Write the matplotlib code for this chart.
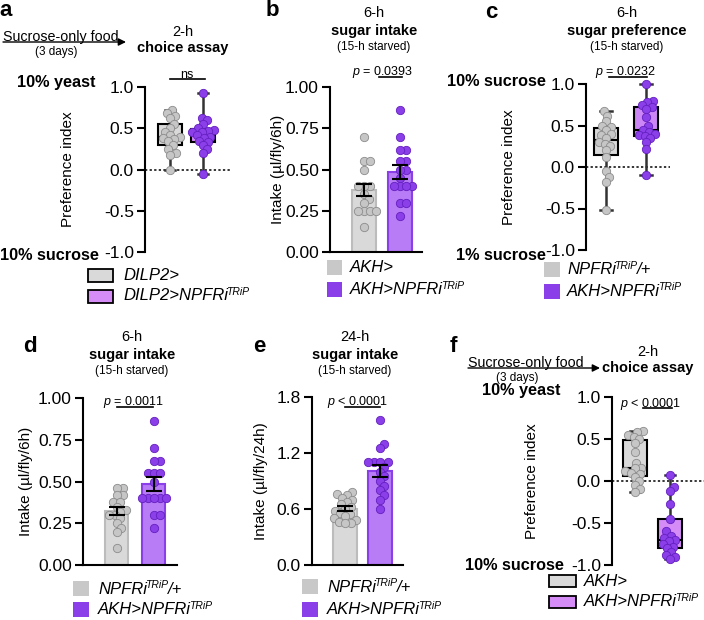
import matplotlib
matplotlib.use("Agg")
import matplotlib.pyplot as plt
import numpy as np
from matplotlib.patches import Rectangle
from matplotlib.ticker import FormatStrFormatter

plt.rcParams['font.family'] = ['Liberation Sans', 'DejaVu Sans']
plt.rcParams['mathtext.fontset'] = 'custom'
plt.rcParams['mathtext.it'] = 'Liberation Sans:italic'
plt.rcParams['mathtext.rm'] = 'Liberation Sans'
plt.rcParams['axes.unicode_minus'] = False

# ---- data ----
# a: preference index, DILP2> vs DILP2>NPFRi
a_ctrl = [0.72, 0.68, 0.65, 0.62, 0.55, 0.50, 0.45, 0.42, 0.40, 0.38, 0.37, 0.35, 0.30, 0.25, 0.20, 0.18, 0.0]
a_rnai = [0.93, 0.63, 0.60, 0.55, 0.50, 0.48, 0.47, 0.45, 0.45, 0.42, 0.40, 0.38, 0.35, 0.33, 0.30, 0.25, 0.20, -0.05]
# b: 6-h intake, AKH> vs AKH>NPFRi
b_ctrl = [0.70, 0.55, 0.55, 0.50, 0.40, 0.40, 0.40, 0.35, 0.32, 0.30, 0.25, 0.25, 0.25, 0.25, 0.15]
b_rnai = [0.86, 0.70, 0.62, 0.62, 0.55, 0.55, 0.50, 0.50, 0.45, 0.40, 0.40, 0.40, 0.40, 0.30, 0.30, 0.22]
# c: sugar preference
c_ctrl = [0.68, 0.62, 0.55, 0.50, 0.48, 0.45, 0.40, 0.38, 0.35, 0.30, 0.28, 0.25, 0.20, 0.12, -0.05, -0.12, -0.18, -0.52]
c_rnai = [1.0, 0.80, 0.78, 0.75, 0.72, 0.70, 0.60, 0.50, 0.45, 0.42, 0.40, 0.38, 0.37, 0.35, 0.30, 0.22, -0.10]
# d: 6-h intake, NPFRi/+ vs AKH>NPFRi
d_ctrl = [0.46, 0.46, 0.42, 0.42, 0.38, 0.38, 0.35, 0.33, 0.32, 0.30, 0.30, 0.28, 0.25, 0.22, 0.20, 0.10]
d_rnai = [0.86, 0.70, 0.62, 0.62, 0.55, 0.55, 0.55, 0.50, 0.40, 0.40, 0.40, 0.40, 0.40, 0.30, 0.30, 0.22]
# e: 24-h intake
e_ctrl = [0.78, 0.76, 0.75, 0.72, 0.70, 0.68, 0.65, 0.62, 0.60, 0.58, 0.56, 0.55, 0.52, 0.50, 0.48, 0.46, 0.45, 0.45]
e_rnai = [1.55, 1.30, 1.25, 1.10, 1.10, 1.10, 1.10, 1.05, 1.00, 0.95, 0.90, 0.85, 0.80, 0.75, 0.70, 0.60]
# f: yeast vs sucrose preference
f_ctrl = [0.60, 0.58, 0.55, 0.52, 0.50, 0.45, 0.35, 0.22, 0.16, 0.15, 0.12, 0.10, 0.08, 0.05, 0.0, -0.05, -0.10, -0.13]
f_rnai = [0.07, -0.07, -0.12, -0.27, -0.45, -0.60, -0.65, -0.68, -0.70, -0.72, -0.75, -0.78, -0.80, -0.85, -0.88, -0.90, -0.93]

p_texts = ["ns", "$\\it{p}$ = 0.0393", "$\\it{p}$ = 0.0232", "$\\it{p}$ = 0.0011", "$\\it{p}$ < 0.0001", "$\\it{p}$ < 0.0001"]

# colours
GREY_PT, GREY_PT_E = '#c6c6c6', '#8c8c8c'
PURP_PT, PURP_PT_E = '#8b3fe8', '#6420c0'
GREY_BOX, PURP_BOX = '#d9d9d9', '#d68cf7'
GREY_BAR, GREY_BAR_E = '#d9d9d9', '#bcbcbc'
PURP_BAR, PURP_BAR_E = '#b77cf6', '#8b3fe8'
GREY_LEG, PURP_LEG = '#c8c8c8', '#8b3fe8'

W, H = 704, 620
fig = plt.figure(figsize=(W / 100, H / 100), dpi=100)

bg = fig.add_axes([0, 0, 1, 1])
bg.set_xlim(0, W)
bg.set_ylim(H, 0)
bg.axis('off')


def make_ax(l, t, r, b, c1, c2, ylim):
    ax = fig.add_axes([l / W, 1 - b / H, (r - l) / W, (b - t) / H])
    ppx = c2 - c1
    ax._xl = (1 - (c1 - l) / ppx, 2 + (r - c2) / ppx)
    ax.set_ylim(*ylim)
    ax.spines[['top', 'right']].set_visible(False)
    ax.spines['left'].set_linewidth(1.5)
    ax.spines['bottom'].set_linewidth(1.5)
    ax.tick_params(axis='y', length=6, width=1.5, labelsize=12.5, pad=2)
    ax.set_facecolor('none')
    ax._px = (ppx, (b - t) / (ylim[1] - ylim[0]))
    return ax


def finish(ax):
    ax.set_xlim(*ax._xl)
    ax.set_xticks([])


def swarm_x(vals, ax, d=6.0):
    xs_px, ys_px = ax._px
    ys = np.asarray(vals) * ys_px
    xs = np.zeros(len(ys))
    done = []
    for i in np.argsort(ys):
        cands = [0.0]
        for j in done:
            dy = ys[i] - ys[j]
            if abs(dy) < d:
                dx = np.sqrt(d * d - dy * dy)
                cands += [xs[j] + dx, xs[j] - dx]
        cands.sort(key=abs)
        for c in cands:
            if all((c - xs[j]) ** 2 + (ys[i] - ys[j]) ** 2 >= d * d - 1e-6 for j in done):
                xs[i] = c
                break
        done.append(i)
    return xs / xs_px


def dots(ax, pos, vals, fc, ec):
    ax.scatter(pos + swarm_x(vals, ax), vals, s=36, facecolor=fc, edgecolor=ec,
               linewidth=0.6, zorder=3, clip_on=False)


def box_panel(ax, ctrl, rnai, width, pfill):
    bp = ax.boxplot([ctrl, rnai], positions=[1, 2], widths=width, whis=(0, 100),
                    patch_artist=True, showfliers=False, capwidths=0.3,
                    boxprops=dict(linewidth=1.5, edgecolor='black'),
                    medianprops=dict(color='black', linewidth=1.5),
                    whiskerprops=dict(color='#333333', linewidth=1.8),
                    capprops=dict(color='#333333', linewidth=1.8))
    bp['boxes'][0].set_facecolor(GREY_BOX)
    bp['boxes'][1].set_facecolor(pfill)
    for art in bp['whiskers'] + bp['caps']:
        art.set_clip_on(False)
    ax.axhline(0, color='black', lw=1.1, ls=(0, (1.5, 1.5)), zorder=1)
    ax.spines['bottom'].set_visible(False)
    ax.set_yticks([-1, -0.5, 0, 0.5, 1])
    ax.yaxis.set_major_formatter(FormatStrFormatter('%.1f'))
    dots(ax, 1, ctrl, GREY_PT, GREY_PT_E)
    dots(ax, 2, rnai, PURP_PT, PURP_PT_E)
    finish(ax)


def bar_panel(ax, ctrl, rnai, width):
    groups = [ctrl, rnai]
    means = [np.mean(g) for g in groups]
    sems = [np.std(g, ddof=1) / np.sqrt(len(g)) for g in groups]
    ax.bar([1, 2], means, width, color=[GREY_BAR, PURP_BAR],
           edgecolor=[GREY_BAR_E, PURP_BAR_E], linewidth=1.5, zorder=2)
    dots(ax, 1, ctrl, GREY_PT, GREY_PT_E)
    dots(ax, 2, rnai, PURP_PT, PURP_PT_E)
    ax.errorbar([1, 2], means, yerr=sems, fmt='none', ecolor='black',
                elinewidth=1.5, capsize=6, capthick=1.5, zorder=4)
    finish(ax)


# ---- panels ----
ax_a = make_ax(145, 87, 230, 252, 170, 203, (-1, 1))
box_panel(ax_a, a_ctrl, a_rnai, 0.75, PURP_BOX)
ax_a.set_ylabel('Preference index', fontsize=11)
ax_a.yaxis.set_label_coords((75 - 145) / 85, 0.5)

ax_b = make_ax(330, 87, 422, 252, 364, 400, (0, 1))
bar_panel(ax_b, b_ctrl, b_rnai, 0.65)
ax_b.set_yticks([0, 0.25, 0.5, 0.75, 1])
ax_b.yaxis.set_major_formatter(FormatStrFormatter('%.2f'))
ax_b.set_ylabel('Intake (µl/fly/6h)', fontsize=11)
ax_b.yaxis.set_label_coords((285 - 330) / 92, 0.5)

ax_c = make_ax(586, 84, 670, 250, 606, 646, (-1, 1))
box_panel(ax_c, c_ctrl, c_rnai, 0.6, '#cd86f6')
ax_c.set_ylabel('Preference index', fontsize=11)
ax_c.yaxis.set_label_coords((516 - 586) / 84, 0.5)

ax_d = make_ax(83, 398, 177, 565, 116.5, 153.5, (0, 1))
bar_panel(ax_d, d_ctrl, d_rnai, 0.62)
ax_d.set_yticks([0, 0.25, 0.5, 0.75, 1])
ax_d.yaxis.set_major_formatter(FormatStrFormatter('%.2f'))
ax_d.set_ylabel('Intake (µl/fly/6h)', fontsize=11)
ax_d.yaxis.set_label_coords((33 - 83) / 94, 0.5)

ax_e = make_ax(312, 397, 403, 565, 345, 380, (0, 1.8))
bar_panel(ax_e, e_ctrl, e_rnai, 0.68)
ax_e.set_yticks([0, 0.6, 1.2, 1.8])
ax_e.yaxis.set_major_formatter(FormatStrFormatter('%.1f'))
ax_e.set_ylabel('Intake (µl/fly/24h)', fontsize=11)
ax_e.yaxis.set_label_coords((268 - 312) / 91, 0.5)

ax_f = make_ax(612, 397, 705, 565, 635, 670, (-1, 1))
box_panel(ax_f, f_ctrl, f_rnai, 0.66, PURP_BOX)
ax_f.set_ylabel('Preference index', fontsize=11)
ax_f.yaxis.set_label_coords((539 - 612) / 93, 0.5)

# ---- panel letters ----
for lab, x, y in [('a', 6, 11), ('b', 272, 11), ('c', 491, 12),
                  ('d', 30, 346), ('e', 259, 346), ('f', 453, 346)]:
    bg.text(x, y, lab, fontsize=16, fontweight='bold', ha='center', va='center')

# ---- titles ----
for x, y0, dur, what in [(374, 13, '6-h', 'sugar intake'), (627, 13, '6-h', 'sugar preference'),
                         (132, 337, '6-h', 'sugar intake'), (355, 337, '24-h', 'sugar intake')]:
    bg.text(x, y0, dur, fontsize=10.5, ha='center', va='center')
    bg.text(x, y0 + 18, what, fontsize=10.5, fontweight='bold', ha='center', va='center')
    bg.text(x, y0 + 34, '(15-h starved)', fontsize=8.5, ha='center', va='center')

# arrow headers for a and f
for x0, x1, ly, cx, ccx, cy in [(3, 126, 42, 56, 183, 32), (468, 600, 368, 517, 648, 352)]:
    bg.annotate('', xy=(x1, ly), xytext=(x0, ly),
                arrowprops=dict(arrowstyle='-|>', lw=1, color='black', mutation_scale=11,
                                shrinkA=0, shrinkB=0))
    bg.text(x0, ly - 1.5, 'Sucrose-only food', fontsize=10.3, ha='left', va='baseline')
    bg.text(cx, ly + 4, '(3 days)', fontsize=8.5, ha='center', va='top')
    bg.text(ccx, cy, '2-h', fontsize=10.5, ha='center', va='center')
    bg.text(ccx, cy + 16, 'choice assay', fontsize=10.5, fontweight='bold', ha='center', va='center')

# side labels
for txt, x, y, ha in [('10% yeast', 17, 82, 'left'), ('10% sucrose', 0, 255, 'left'),
                      ('10% sucrose', 546, 82, 'right'), ('1% sucrose', 546, 255, 'right'),
                      ('10% yeast', 482, 391, 'left'), ('10% sucrose', 465, 565, 'left')]:
    bg.text(x, y, txt, fontsize=11.7, fontweight='bold', ha=ha, va='center')

# significance lines
for txt, x0, x1, ly, tx in zip(p_texts,
                               [170, 379, 609, 117, 345, 643], [205, 402, 647, 153, 380, 672],
                               [79, 77, 77, 407, 407, 408], [187, 383, 626, 134, 358, 651]):
    bg.plot([x0, x1], [ly, ly], color='black', lw=1.2)
    bg.text(tx, ly - 1.5, txt, fontsize=9, ha='center', va='baseline')


# ---- legends ----
def label(x, y, main, sup=None, tail=None):
    t = bg.text(x, y, main, fontsize=12, style='italic', ha='left', va='center')
    if sup:
        s = bg.annotate(sup, xy=(1, 0.42), xycoords=t, xytext=(-1.2, 0),
                        textcoords='offset points', fontsize=7.5, style='italic',
                        ha='left', va='bottom')
        if tail:
            bg.annotate(tail, xy=(1, 0.5), xycoords=(s, t), xytext=(0, 0),
                        textcoords='offset points', fontsize=12, style='italic',
                        ha='left', va='center')


def swatch(x0, y0, w, h, fc, ec):
    bg.add_patch(Rectangle((x0, y0), w, h, facecolor=fc, edgecolor=ec, lw=1.3 if ec != 'none' else 0))


# a
swatch(88, 269, 25, 13, GREY_BOX, 'black')
swatch(88, 290, 25, 13, PURP_BOX, 'black')
label(123, 276, 'DILP2>')
label(123, 296, 'DILP2>NPFRi', 'TRiP')
# b
swatch(327, 260, 15, 15, GREY_LEG, 'none')
swatch(327, 282, 15, 15, PURP_LEG, 'none')
label(350, 268, 'AKH>')
label(350, 290, 'AKH>NPFRi', 'TRiP')
# c
swatch(544, 262, 16, 15, GREY_LEG, 'none')
swatch(544, 284, 16, 15, PURP_LEG, 'none')
label(567, 270, 'NPFRi', 'TRiP', '/+')
label(567, 291, 'AKH>NPFRi', 'TRiP')
# d
swatch(73, 581, 16, 15, GREY_LEG, 'none')
swatch(73, 602, 16, 15, PURP_LEG, 'none')
label(98, 589, 'NPFRi', 'TRiP', '/+')
label(98, 610, 'AKH>NPFRi', 'TRiP')
# e
swatch(302, 579, 16, 15, GREY_LEG, 'none')
swatch(302, 602, 16, 15, PURP_LEG, 'none')
label(327, 587, 'NPFRi', 'TRiP', '/+')
label(327, 610, 'AKH>NPFRi', 'TRiP')
# f
swatch(549, 575, 27, 12, GREY_BOX, 'black')
swatch(549, 596, 27, 12, PURP_BOX, 'black')
label(584, 582, 'AKH>')
label(584, 602, 'AKH>NPFRi', 'TRiP')

fig.savefig('out.png', dpi=100)
